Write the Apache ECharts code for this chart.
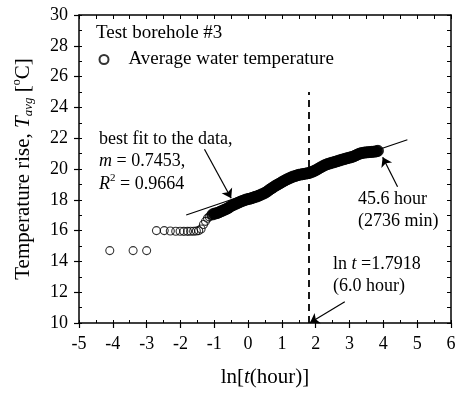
<!DOCTYPE html>
<html lang="en">
<head>
    <meta charset="UTF-8">
    <title>Test borehole #3</title>
    <style>
        html, body {
            margin: 0;
            padding: 0;
            background: #fff;
        }
        #chart {
            width: 458px;
            height: 397px;
        }
    </style>
    <script src="https://cdn.jsdelivr.net/npm/echarts@6/dist/echarts.min.js"></script>
</head>
<body>
    <div id="chart"></div>
    <script>
        // ln(t) in hours vs average water temperature rise
        // sparse early readings (drawn as open circles)
        var earlyX = [-4.09, -3.40, -3.00, -2.71, -2.48, -2.30, -2.14, -2.01, -1.90, -1.79, -1.70, -1.61, -1.53, -1.46, -1.39, -1.32, -1.26, -1.20, -1.15, -1.10];
        var earlyY = [14.70, 14.70, 14.70, 16.00, 16.00, 15.97, 15.96, 15.96, 15.95, 15.95, 15.96, 15.96, 15.97, 16.00, 16.10, 16.40, 16.60, 16.80, 16.90, 17.00];

        // dense later readings (they merge into a solid band)
        var bandX = [-1.05, -1.00, -0.95, -0.90, -0.85, -0.80, -0.75, -0.70, -0.65, -0.60, -0.55, -0.50, -0.45, -0.40, -0.35, -0.30, -0.25, -0.20, -0.15, -0.10, -0.05,
                     0.00, 0.05, 0.10, 0.15, 0.20, 0.25, 0.30, 0.35, 0.40, 0.45, 0.50, 0.55, 0.60, 0.65, 0.70, 0.75, 0.80, 0.85, 0.90, 0.95,
                     1.00, 1.05, 1.10, 1.15, 1.20, 1.25, 1.30, 1.35, 1.40, 1.45, 1.50, 1.55, 1.60, 1.65, 1.70, 1.75, 1.80, 1.85, 1.90, 1.95,
                     2.00, 2.05, 2.10, 2.15, 2.20, 2.25, 2.30, 2.35, 2.40, 2.45, 2.50, 2.55, 2.60, 2.65, 2.70, 2.75, 2.80, 2.85, 2.90, 2.95,
                     3.00, 3.05, 3.10, 3.15, 3.20, 3.25, 3.30, 3.35, 3.40, 3.45, 3.50, 3.55, 3.60, 3.65, 3.70, 3.75, 3.80, 3.84];
        var bandY = [17.05, 17.10, 17.12, 17.15, 17.20, 17.25, 17.30, 17.35, 17.40, 17.45, 17.52, 17.60, 17.65, 17.70, 17.75, 17.80, 17.85, 17.90, 17.94, 17.98, 18.02,
                     18.05, 18.07, 18.10, 18.14, 18.18, 18.21, 18.25, 18.30, 18.35, 18.40, 18.45, 18.52, 18.60, 18.68, 18.75, 18.82, 18.90, 18.96, 19.02, 19.08,
                     19.15, 19.21, 19.27, 19.33, 19.38, 19.43, 19.48, 19.52, 19.55, 19.59, 19.62, 19.64, 19.66, 19.68, 19.70, 19.72, 19.74, 19.78, 19.82, 19.87,
                     19.92, 19.98, 20.05, 20.11, 20.17, 20.23, 20.28, 20.32, 20.35, 20.39, 20.42, 20.45, 20.48, 20.52, 20.55, 20.59, 20.62, 20.65, 20.68, 20.71,
                     20.74, 20.77, 20.80, 20.85, 20.90, 20.95, 21.00, 21.03, 21.05, 21.07, 21.08, 21.09, 21.10, 21.11, 21.12, 21.13, 21.15, 21.18];

        // best fit line end points, m = 0.7453
        var fitX = [-1.83, 4.71];
        var fitY = [17.01, 21.90];

        var lnT6h = 1.7918;

        var xTicks = [-5, 6];
        var yTicks = [10, 30];

        var serif = '"Liberation Serif", "Times New Roman", serif';

        var earlyPoints = earlyX.map(function (x, i) { return [x, earlyY[i]]; });
        var bandPoints = bandX.map(function (x, i) { return [x, bandY[i]]; });

        var chart = echarts.init(document.getElementById('chart'));

        var hideLabel = { show: false };

        var option = {
            animation: false,
            backgroundColor: '#fff',
            grid: { left: 79, right: 7, top: 15, bottom: 74, outerBoundsMode: 'none' },
            legend: {
                data: ['Average water temperature'],
                left: 98.5,
                top: 50,
                padding: 0,
                icon: 'circle',
                itemWidth: 9,
                itemHeight: 9,
                textStyle: { fontFamily: serif, fontSize: 19, color: '#000', padding: [0, 0, 0, 15] }
            },
            xAxis: [
                {
                    type: 'value', position: 'bottom', min: xTicks[0], max: xTicks[1], interval: 1,
                    name: '{a|ln[}{i|t}{a|(hour)]}',
                    nameLocation: 'middle', nameGap: 44, nameMoveOverlap: false,
                    nameTextStyle: {
                        rich: {
                            a: { fontFamily: serif, fontSize: 21, color: '#000' },
                            i: { fontFamily: serif, fontSize: 21, color: '#000', fontStyle: 'italic' }
                        }
                    },
                    axisLine: { onZero: false, lineStyle: { color: '#000', width: 1.5 } },
                    axisTick: { inside: false, length: 5, lineStyle: { color: '#000', width: 1.2 } },
                    axisLabel: { fontFamily: serif, fontSize: 18, color: '#000', margin: 12 },
                    splitLine: { show: false }
                },
                {
                    type: 'value', position: 'bottom', min: xTicks[0], max: xTicks[1], interval: 0.5,
                    axisLine: { show: false, onZero: false },
                    axisTick: { inside: true, length: 3, lineStyle: { color: '#000', width: 1 } },
                    axisLabel: hideLabel,
                    splitLine: { show: false }
                },
                {
                    type: 'value', position: 'top', min: xTicks[0], max: xTicks[1], interval: 0.5,
                    axisLine: { show: true, onZero: false, lineStyle: { color: '#000', width: 1.5 } },
                    axisTick: { inside: true, length: 4, lineStyle: { color: '#000', width: 1 } },
                    axisLabel: hideLabel,
                    splitLine: { show: false }
                }
            ],
            yAxis: [
                {
                    type: 'value', position: 'left', min: yTicks[0], max: yTicks[1], interval: 2,
                    name: '{a|Temperature rise, }{i|T}{s|avg}{a| [}{u|o}{a|C]}',
                    nameLocation: 'middle', nameGap: 44, nameMoveOverlap: false,
                    nameTextStyle: {
                        rich: {
                            a: { fontFamily: serif, fontSize: 21, color: '#000', lineHeight: 24 },
                            i: { fontFamily: serif, fontSize: 21, color: '#000', fontStyle: 'italic', lineHeight: 24 },
                            s: { fontFamily: serif, fontSize: 13, color: '#000', fontStyle: 'italic', verticalAlign: 'bottom', lineHeight: 24 },
                            u: { fontFamily: serif, fontSize: 12, color: '#000', verticalAlign: 'top', lineHeight: 24 }
                        }
                    },
                    axisLine: { onZero: false, lineStyle: { color: '#000', width: 1.5 } },
                    axisTick: { inside: false, length: 5, lineStyle: { color: '#000', width: 1.2 } },
                    axisLabel: { fontFamily: serif, fontSize: 18, color: '#000', margin: 11 },
                    splitLine: { show: false }
                },
                {
                    type: 'value', position: 'left', min: yTicks[0], max: yTicks[1], interval: 1,
                    axisLine: { show: false, onZero: false },
                    axisTick: { inside: true, length: 3, lineStyle: { color: '#000', width: 1 } },
                    axisLabel: hideLabel,
                    splitLine: { show: false }
                },
                {
                    type: 'value', position: 'right', min: yTicks[0], max: yTicks[1], interval: 1,
                    axisLine: { show: true, onZero: false, lineStyle: { color: '#000', width: 1.5 } },
                    axisTick: { inside: true, length: 4, lineStyle: { color: '#000', width: 1 } },
                    axisLabel: hideLabel,
                    splitLine: { show: false }
                }
            ],
            graphic: [
                {
                    type: 'text', left: 96, top: 24,
                    style: { text: 'Test borehole #3', fontFamily: serif, fontSize: 19, fill: '#000' }
                },
                {
                    type: 'text', left: 99, top: 130,
                    style: {
                        text: '{n|best fit to the data,}\n{i|m}{n| = 0.7453,}\n{i|R}{u|2}{n| = 0.9664}',
                        rich: {
                            n: { fontFamily: serif, fontSize: 18, fill: '#000', lineHeight: 22.5 },
                            i: { fontFamily: serif, fontSize: 18, fill: '#000', fontStyle: 'italic', lineHeight: 22.5 },
                            u: { fontFamily: serif, fontSize: 11, fill: '#000', verticalAlign: 'top', lineHeight: 22.5 }
                        }
                    }
                },
                {
                    type: 'text', left: 358, top: 188,
                    style: {
                        text: '45.6 hour\n(2736 min)',
                        fontFamily: serif, fontSize: 18, fill: '#000', lineHeight: 22
                    }
                },
                {
                    type: 'text', left: 333, top: 255,
                    style: {
                        text: '{n|ln }{i|t}{n| =1.7918}\n{n|(6.0 hour)}',
                        rich: {
                            n: { fontFamily: serif, fontSize: 18, fill: '#000', lineHeight: 22 },
                            i: { fontFamily: serif, fontSize: 18, fill: '#000', fontStyle: 'italic', lineHeight: 22 }
                        }
                    }
                }
            ],
            series: [
                {
                    name: 'Average water temperature',
                    type: 'scatter',
                    data: earlyPoints,
                    symbol: 'circle',
                    symbolSize: 8,
                    itemStyle: { color: 'rgba(255,255,255,0)', borderColor: '#000', borderWidth: 1.1 },
                    emphasis: { disabled: true },
                    z: 3
                },
                {
                    name: 'Average water temperature',
                    type: 'scatter',
                    data: bandPoints,
                    symbol: 'circle',
                    symbolSize: 11,
                    itemStyle: { color: '#000', borderColor: '#000', borderWidth: 1 },
                    emphasis: { disabled: true },
                    z: 3
                },
                {
                    name: 'fit',
                    type: 'line',
                    data: [[fitX[0], fitY[0]], [fitX[1], fitY[1]]],
                    showSymbol: false,
                    lineStyle: { color: '#000', width: 1.2 },
                    emphasis: { disabled: true },
                    silent: true,
                    z: 4,
                    markLine: {
                        silent: true,
                        symbol: ['none', 'arrow'],
                        symbolSize: 9,
                        label: { show: false },
                        emphasis: { disabled: true },
                        lineStyle: { color: '#000', width: 1.2, type: 'solid' },
                        data: [
                            [{ coord: [-1.29, 21.28] }, { coord: [-0.50, 18.10] }],
                            [{ coord: [4.42, 18.85] }, { coord: [3.98, 20.76] }],
                            [{ coord: [2.86, 11.38] }, { coord: [1.83, 10.02] }],
                            [{ coord: [lnT6h, 10], symbol: 'none' },
                             { coord: [lnT6h, 25], symbol: 'none', lineStyle: { type: [7, 5], width: 1.8 } }]
                        ]
                    }
                }
            ]
        };

        chart.setOption(option);
    </script>
</body>
</html>
